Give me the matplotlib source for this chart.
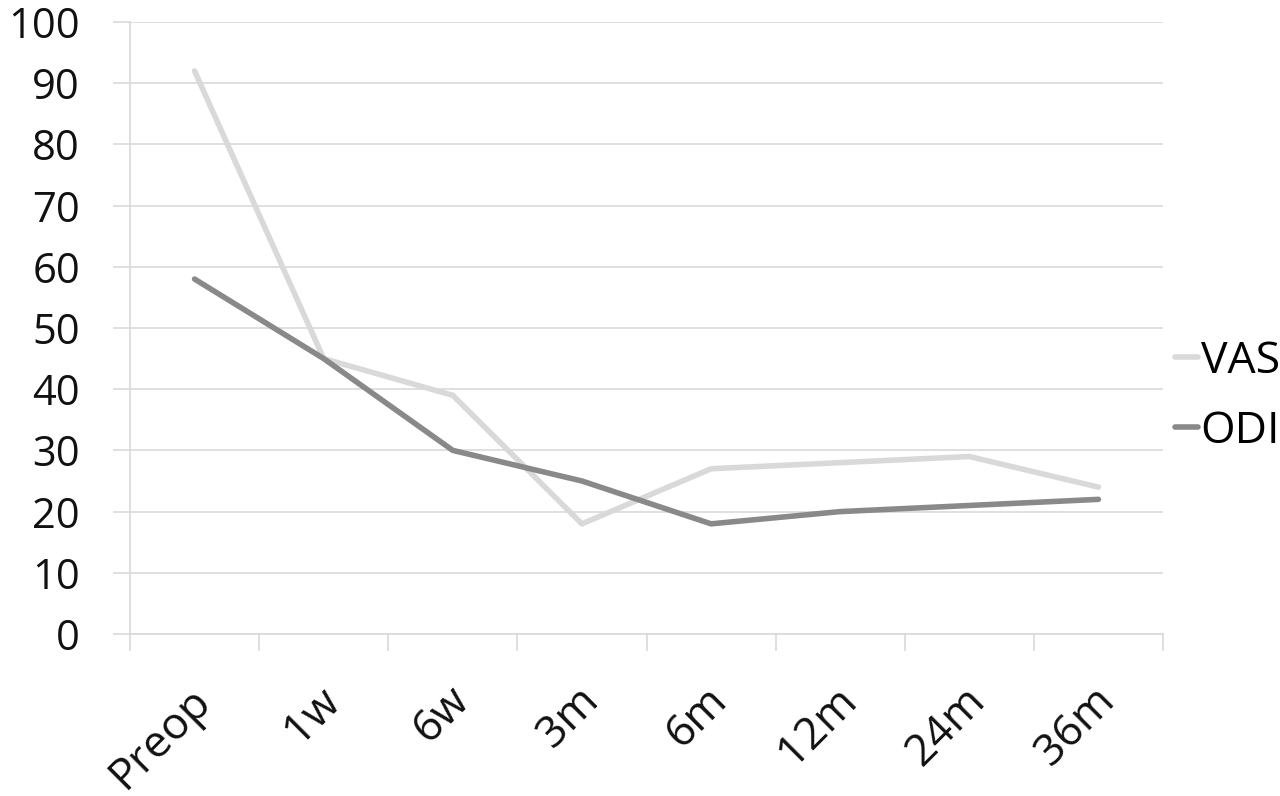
import numpy as np
import matplotlib
matplotlib.use("Agg")
import matplotlib.pyplot as plt
import matplotlib.ticker as ticker
import matplotlib.transforms as mtransforms

# data
periods = ["Preop", "1w", "6w", "3m", "6m", "12m", "24m", "36m"]
vas = [92, 45, 39, 18, 27, 28, 29, 24]
odi = [58, 45, 30, 25, 18, 20, 21, 22]

plt.rcParams['font.family'] = ['Open Sans', 'DejaVu Sans']
grid_col = '#d9d9d9'

fig = plt.figure(figsize=(12.8, 7.96), dpi=100)
ax = fig.add_axes([130/1280, 1-634/796, 1033/1280, 612/796])

x = np.arange(len(periods))
ax.plot(x, vas, color='#d9d9d9', lw=4, label='VAS', solid_capstyle='round')
ax.plot(x, odi, color='#898989', lw=4, label='ODI', solid_capstyle='round')

ax.set_xlim(-0.5, len(periods) - 0.5)
ax.set_ylim(0, 100)
ax.yaxis.set_major_locator(ticker.MultipleLocator(10))
ax.grid(axis='y', color=grid_col, lw=1.2)
ax.set_axisbelow(True)

for s in ['top', 'right']:
    ax.spines[s].set_visible(False)
for s in ['left', 'bottom']:
    ax.spines[s].set_color(grid_col)
    ax.spines[s].set_linewidth(1.2)

ax.tick_params(axis='y', direction='out', length=12, width=1.2, color=grid_col,
               labelsize=30, pad=24, labelcolor='#111111')

# category labels at centers, tick marks at boundaries
ax.set_xticks(x)
ax.set_xticklabels(periods, rotation=45, ha='right', va='top',
                   rotation_mode='anchor', fontsize=32, color='#111111')
ax.tick_params(axis='x', which='major', length=0, pad=32)
ax.set_xticks(np.arange(-0.5, len(periods)), minor=True)
ax.tick_params(axis='x', which='minor', direction='out', length=12, width=1.2,
               color=grid_col)
shift = mtransforms.ScaledTranslation(-6/100, 0, fig.dpi_scale_trans)
for lab in ax.get_xticklabels():
    lab.set_transform(lab.get_transform() + shift)

ax.legend(loc='center left', bbox_to_anchor=(1.012, 0.388), frameon=False,
          fontsize=32, handlelength=0.5, handletextpad=0.07,
          labelspacing=0.58, borderpad=0, borderaxespad=0)

fig.savefig('out.png', dpi=100)
